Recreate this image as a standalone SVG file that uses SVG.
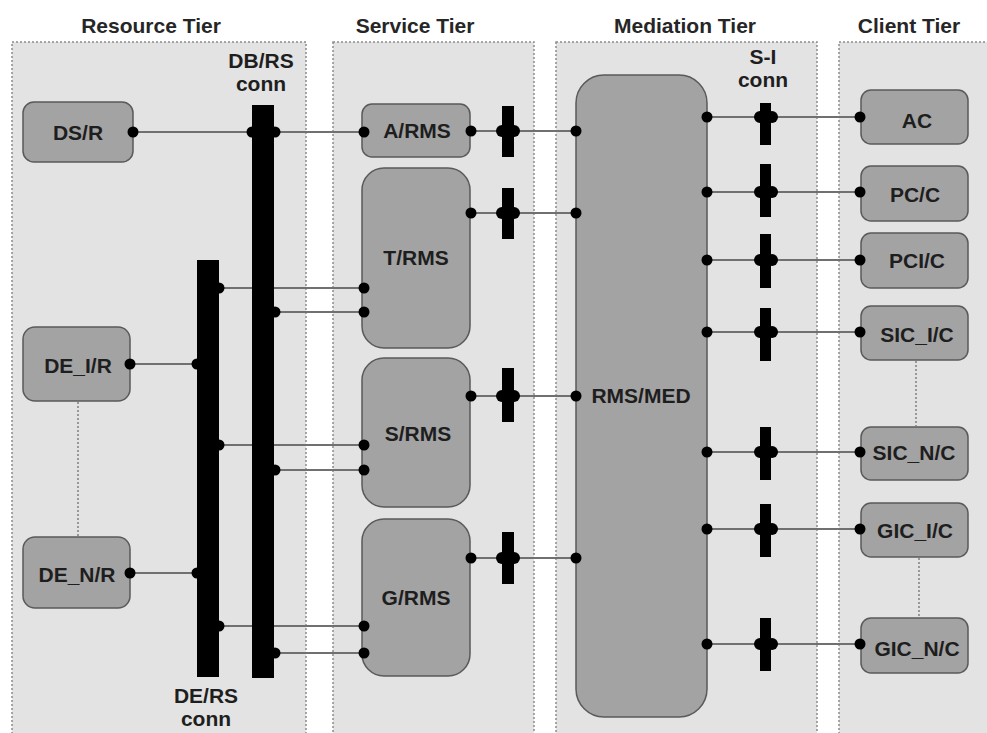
<svg xmlns="http://www.w3.org/2000/svg" width="987" height="733" viewBox="0 0 987 733">
<style>
.panel{fill:#e3e3e3;stroke:#8c8c8c;stroke-width:1.5;stroke-dasharray:2 2}
.title{font-family:"Liberation Sans",Arial,sans-serif;font-weight:bold;font-size:21px;fill:#262626;text-anchor:middle}
.lbl{font-family:"Liberation Sans",Arial,sans-serif;font-weight:bold;font-size:21px;fill:#1e1e1e;text-anchor:middle}
.node{fill:#a3a3a3;stroke:#5a5a5a;stroke-width:1.5}
.bar{fill:#000}
.wire{stroke:#707070;stroke-width:2;fill:none}
.dot{fill:#000}
.dash{stroke:#808080;stroke-width:1.5;stroke-dasharray:2 2;fill:none}
</style>
<rect width="987" height="733" fill="#fff"/>
<g id="panels">
<rect class="panel" x="12" y="42" width="294" height="700"/>
<rect class="panel" x="333" y="42" width="201" height="700"/>
<rect class="panel" x="556" y="42" width="261" height="700"/>
<rect class="panel" x="839" y="42" width="160" height="700"/>
<text class="title" x="151" y="33">Resource Tier</text>
<text class="title" x="415" y="33">Service Tier</text>
<text class="title" x="685" y="33">Mediation Tier</text>
<text class="title" x="909" y="33">Client Tier</text>
</g>
<g id="DBRS_conn">
<rect class="bar" x="252" y="105" width="22" height="573"/>
<text class="lbl" x="261" y="68">DB/RS</text>
<text class="lbl" x="261" y="91">conn</text>
</g>
<g id="DERS_conn">
<rect class="bar" x="197" y="260" width="22" height="417"/>
<text class="lbl" x="206" y="703">DE/RS</text>
<text class="lbl" x="206" y="726">conn</text>
</g>
<g id="DSR"><rect class="node" x="23" y="102" width="110" height="60" rx="11"/><text class="lbl" x="78" y="140">DS/R</text></g>
<g id="DEIR"><rect class="node" x="23" y="327" width="107" height="74" rx="12"/><text class="lbl" x="78" y="373">DE_I/R</text></g>
<g id="DENR"><rect class="node" x="23" y="537" width="107" height="71" rx="12"/><text class="lbl" x="77" y="582">DE_N/R</text></g>
<g id="ARMS"><rect class="node" x="362" y="104" width="108" height="53" rx="10"/><text class="lbl" x="417" y="138">A/RMS</text></g>
<g id="TRMS"><rect class="node" x="362" y="168" width="108" height="180" rx="22"/><text class="lbl" x="416" y="265">T/RMS</text></g>
<g id="SRMS"><rect class="node" x="362" y="358" width="108" height="149" rx="22"/><text class="lbl" x="418" y="441">S/RMS</text></g>
<g id="GRMS"><rect class="node" x="362" y="519" width="108" height="157" rx="22"/><text class="lbl" x="416" y="605">G/RMS</text></g>
<g id="RMSMED"><rect class="node" x="576" y="75" width="131" height="642" rx="28"/><text class="lbl" x="641" y="403">RMS/MED</text></g>
<g id="AC"><rect class="node" x="861" y="90" width="107" height="54" rx="10"/><text class="lbl" x="917" y="128">AC</text></g>
<g id="PCC"><rect class="node" x="861" y="166" width="107" height="55" rx="10"/><text class="lbl" x="915" y="202">PC/C</text></g>
<g id="PCIC"><rect class="node" x="861" y="233" width="107" height="55" rx="10"/><text class="lbl" x="917" y="268">PCI/C</text></g>
<g id="SICIC"><rect class="node" x="861" y="306" width="107" height="54" rx="10"/><text class="lbl" x="917" y="342">SIC_I/C</text></g>
<g id="SICNC"><rect class="node" x="861" y="427" width="107" height="53" rx="10"/><text class="lbl" x="914" y="460">SIC_N/C</text></g>
<g id="GICIC"><rect class="node" x="861" y="503" width="107" height="54" rx="10"/><text class="lbl" x="915" y="538">GIC_I/C</text></g>
<g id="GICNC"><rect class="node" x="861" y="618" width="107" height="55" rx="10"/><text class="lbl" x="917" y="656">GIC_N/C</text></g>
<g id="connectors">
<line class="wire" x1="133" y1="132" x2="252" y2="132"/>
<line class="wire" x1="274" y1="132" x2="364" y2="132"/>
<line class="wire" x1="130" y1="364" x2="197" y2="364"/>
<line class="wire" x1="130" y1="573" x2="197" y2="573"/>
<line class="wire" x1="219" y1="288" x2="252" y2="288"/>
<line class="wire" x1="274" y1="288" x2="364" y2="288"/>
<line class="wire" x1="274" y1="312" x2="364" y2="312"/>
<line class="wire" x1="219" y1="445" x2="252" y2="445"/>
<line class="wire" x1="274" y1="445" x2="364" y2="445"/>
<line class="wire" x1="274" y1="470" x2="364" y2="470"/>
<line class="wire" x1="219" y1="626" x2="252" y2="626"/>
<line class="wire" x1="274" y1="626" x2="364" y2="626"/>
<line class="wire" x1="274" y1="653" x2="364" y2="653"/>
<line class="wire" x1="471" y1="131" x2="576" y2="131"/>
<line class="wire" x1="471" y1="213" x2="576" y2="213"/>
<line class="wire" x1="471" y1="396" x2="576" y2="396"/>
<line class="wire" x1="471" y1="558" x2="576" y2="558"/>
<line class="wire" x1="707" y1="117" x2="860" y2="117"/>
<line class="wire" x1="707" y1="192" x2="860" y2="192"/>
<line class="wire" x1="707" y1="260" x2="860" y2="260"/>
<line class="wire" x1="707" y1="332" x2="860" y2="332"/>
<line class="wire" x1="707" y1="452" x2="860" y2="452"/>
<line class="wire" x1="707" y1="529" x2="860" y2="529"/>
<line class="wire" x1="707" y1="644" x2="860" y2="644"/>
<line class="dash" x1="78" y1="402" x2="78" y2="536"/>
<line class="dash" x1="916" y1="361" x2="916" y2="426"/>
<line class="dash" x1="919" y1="558" x2="919" y2="617"/>
<g class="dot">
<circle cx="133" cy="132" r="5.5"/><circle cx="252" cy="132" r="5.5"/><circle cx="275" cy="132" r="5.5"/><circle cx="364" cy="132" r="5.5"/>
<circle cx="130" cy="364" r="5.5"/><circle cx="197" cy="364" r="5.5"/>
<circle cx="130" cy="573" r="5.5"/><circle cx="197" cy="573" r="5.5"/>
<circle cx="219" cy="288" r="5.5"/><circle cx="364" cy="288" r="5.5"/>
<circle cx="275" cy="312" r="5.5"/><circle cx="364" cy="312" r="5.5"/>
<circle cx="219" cy="445" r="5.5"/><circle cx="364" cy="445" r="5.5"/>
<circle cx="275" cy="470" r="5.5"/><circle cx="364" cy="470" r="5.5"/>
<circle cx="219" cy="626" r="5.5"/><circle cx="364" cy="626" r="5.5"/>
<circle cx="275" cy="653" r="5.5"/><circle cx="364" cy="653" r="5.5"/>
<circle cx="471" cy="131" r="5.5"/><circle cx="576" cy="131" r="5.5"/>
<circle cx="471" cy="213" r="5.5"/><circle cx="576" cy="213" r="5.5"/>
<circle cx="471" cy="396" r="5.5"/><circle cx="576" cy="396" r="5.5"/>
<circle cx="471" cy="558" r="5.5"/><circle cx="576" cy="558" r="5.5"/>
<circle cx="707" cy="117" r="5.5"/><circle cx="860" cy="117" r="5.5"/>
<circle cx="707" cy="192" r="5.5"/><circle cx="860" cy="192" r="5.5"/>
<circle cx="707" cy="260" r="5.5"/><circle cx="860" cy="260" r="5.5"/>
<circle cx="707" cy="332" r="5.5"/><circle cx="860" cy="332" r="5.5"/>
<circle cx="707" cy="452" r="5.5"/><circle cx="860" cy="452" r="5.5"/>
<circle cx="707" cy="529" r="5.5"/><circle cx="860" cy="529" r="5.5"/>
<circle cx="707" cy="644" r="5.5"/><circle cx="860" cy="644" r="5.5"/>
</g>
</g>
<g id="svc_conns">
<g><rect class="bar" x="502" y="106" width="12" height="51"/><circle class="dot" cx="502" cy="131" r="6"/><circle class="dot" cx="514" cy="131" r="6"/></g>
<g><rect class="bar" x="502" y="188" width="12" height="51"/><circle class="dot" cx="502" cy="213" r="6"/><circle class="dot" cx="514" cy="213" r="6"/></g>
<g><rect class="bar" x="502" y="368" width="12" height="54"/><circle class="dot" cx="502" cy="396" r="6"/><circle class="dot" cx="514" cy="396" r="6"/></g>
<g><rect class="bar" x="502" y="532" width="12" height="52"/><circle class="dot" cx="502" cy="558" r="6"/><circle class="dot" cx="514" cy="558" r="6"/></g>
</g>
<g id="SI_conn">
<text class="lbl" x="763" y="64">S-I</text>
<text class="lbl" x="763" y="87">conn</text>
<g><rect class="bar" x="760" y="103" width="11" height="42"/><circle class="dot" cx="760" cy="117" r="6"/><circle class="dot" cx="772" cy="117" r="6"/></g>
<g><rect class="bar" x="760" y="164" width="11" height="53"/><circle class="dot" cx="760" cy="192" r="6"/><circle class="dot" cx="772" cy="192" r="6"/></g>
<g><rect class="bar" x="760" y="234" width="11" height="54"/><circle class="dot" cx="760" cy="260" r="6"/><circle class="dot" cx="772" cy="260" r="6"/></g>
<g><rect class="bar" x="760" y="308" width="11" height="53"/><circle class="dot" cx="760" cy="332" r="6"/><circle class="dot" cx="772" cy="332" r="6"/></g>
<g><rect class="bar" x="760" y="427" width="11" height="53"/><circle class="dot" cx="760" cy="452" r="6"/><circle class="dot" cx="772" cy="452" r="6"/></g>
<g><rect class="bar" x="760" y="504" width="11" height="53"/><circle class="dot" cx="760" cy="529" r="6"/><circle class="dot" cx="772" cy="529" r="6"/></g>
<g><rect class="bar" x="760" y="618" width="11" height="53"/><circle class="dot" cx="760" cy="644" r="6"/><circle class="dot" cx="772" cy="644" r="6"/></g>
</g>
</svg>
